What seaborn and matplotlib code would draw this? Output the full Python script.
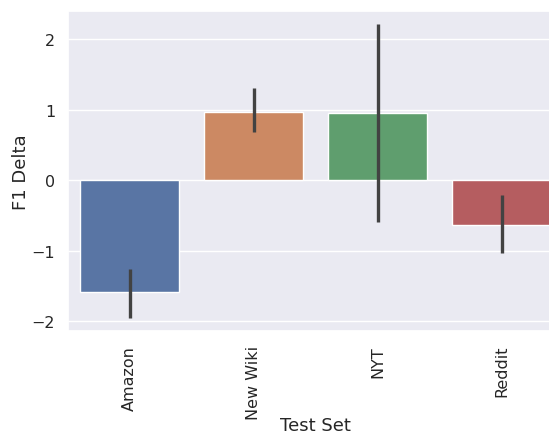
import numpy as np
import matplotlib
matplotlib.use("Agg")
import matplotlib.pyplot as plt
import seaborn as sns

test_sets = ["Amazon", "New Wiki", "NYT", "Reddit"]
f1_delta = [-1.59, 0.97, 0.95, -0.64]
ci_low = [-1.96, 0.68, -0.60, -1.03]
ci_high = [-1.26, 1.30, 2.21, -0.21]

sns.set_theme(style="darkgrid")
plt.rcParams["font.family"] = ["DejaVu Sans"]

fig = plt.figure(figsize=(5.49, 4.35), dpi=100)
ax = fig.add_axes([0.123, 0.237, 0.9035, 0.7355])

sns.barplot(x=test_sets, y=f1_delta, hue=test_sets, palette="deep",
            errorbar=None, legend=False, ax=ax)

# confidence intervals drawn at the category positions
pos = ax.get_xticks()
ax.vlines(pos, ci_low, ci_high, color=".26", linewidth=2.4, zorder=3)

ax.set_xlim(-0.5, 3.5)
ax.set_ylim(-2.14, 2.4)
ax.set_yticks([-2, -1, 0, 1, 2])
ax.set_xlabel("Test Set", fontsize=13, labelpad=-2)
ax.set_ylabel("F1 Delta", fontsize=13, labelpad=1)
ax.tick_params(axis="x", labelsize=11.5, pad=4)
ax.tick_params(axis="y", labelsize=11.5, pad=3)
plt.setp(ax.get_xticklabels(), rotation=90)

fig.savefig("out.png", dpi=100)
